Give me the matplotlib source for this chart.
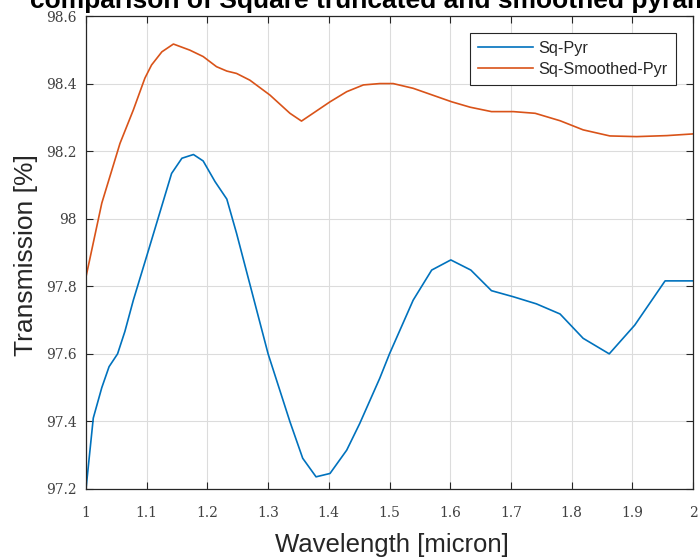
import matplotlib
matplotlib.use('Agg')
import matplotlib.pyplot as plt

# valores (comprimento de onda em micron, transmissao em %)
x_pyr = [1.0, 1.012, 1.026, 1.038, 1.052, 1.064, 1.078, 1.103, 1.141, 1.158,
         1.177, 1.193, 1.2125, 1.232, 1.248, 1.30, 1.336, 1.357, 1.379, 1.402,
         1.4295, 1.451, 1.484, 1.50, 1.539, 1.5695, 1.601, 1.634, 1.668, 1.704,
         1.742, 1.781, 1.819, 1.862, 1.904, 1.954, 2.0]
y_pyr = [97.20, 97.41, 97.50, 97.562, 97.60, 97.666, 97.759, 97.907, 98.134, 98.179,
         98.19, 98.171, 98.11, 98.058, 97.957, 97.60, 97.399, 97.291, 97.236, 97.246,
         97.315, 97.394, 97.528, 97.60, 97.759, 97.848, 97.878, 97.848, 97.787, 97.769,
         97.748, 97.718, 97.646, 97.60, 97.685, 97.816, 97.816]

x_smooth = [1.0, 1.026, 1.056, 1.078, 1.097, 1.108, 1.125, 1.144, 1.171, 1.193,
            1.215, 1.232, 1.248, 1.27, 1.303, 1.336, 1.355, 1.374, 1.402, 1.4295,
            1.457, 1.484, 1.506, 1.539, 1.6025, 1.633, 1.668, 1.704, 1.74, 1.781,
            1.819, 1.863, 1.907, 1.957, 2.0]
y_smooth = [97.828, 98.046, 98.223, 98.322, 98.416, 98.455, 98.494, 98.517, 98.499, 98.48,
            98.45, 98.437, 98.43, 98.41, 98.366, 98.312, 98.289, 98.312, 98.346, 98.376,
            98.396, 98.40, 98.40, 98.386, 98.346, 98.33, 98.317, 98.317, 98.312, 98.29,
            98.263, 98.245, 98.243, 98.246, 98.251]

x_ticks = [1, 1.1, 1.2, 1.3, 1.4, 1.5, 1.6, 1.7, 1.8, 1.9, 2]
x_tick_labels = ['1', '1.1', '1.2', '1.3', '1.4', '1.5', '1.6', '1.7', '1.8', '1.9', '2']
y_ticks = [97.2, 97.4, 97.6, 97.8, 98, 98.2, 98.4, 98.6]
y_tick_labels = ['97.2', '97.4', '97.6', '97.8', '98', '98.2', '98.4', '98.6']

titulo = 'comparison of Square truncated and smoothed pyramids'
cinza = '#262626'

fig = plt.figure(figsize=(7, 5.6), dpi=100)
ax = fig.add_axes([86/700, 1 - 489/560, 607/700, 473/560])

ax.plot(x_pyr, y_pyr, color='#0072BD', lw=1.2, label='Sq-Pyr')
ax.plot(x_smooth, y_smooth, color='#D95319', lw=1.2, label='Sq-Smoothed-Pyr')

ax.set_xlim(1, 2)
ax.set_ylim(97.2, 98.6)
ax.set_xticks(x_ticks)
ax.set_xticklabels(x_tick_labels, family='DejaVu Serif', fontsize=10, color='#404040')
ax.set_yticks(y_ticks)
ax.set_yticklabels(y_tick_labels, family='DejaVu Serif', fontsize=10, color='#404040')
ax.tick_params(direction='in', length=5, width=0.8, color=cinza, top=True, right=True)
ax.tick_params(axis='x', pad=12)
ax.tick_params(axis='y', pad=6.5)
ax.grid(True, color='#dcdcdc', lw=0.8)
ax.set_axisbelow(True)
for s in ax.spines.values():
    s.set_color(cinza)
    s.set_linewidth(0.9)

fig.text(26/700, 1 - 255/560, 'Transmission [%]', rotation=90, ha='center', va='center',
         family='Liberation Sans', fontsize=19, color=cinza)
fig.text(392/700, 1 - 552/560, 'Wavelength [micron]', ha='center', va='baseline',
         family='Liberation Sans', fontsize=18.5, color=cinza)
fig.text(389/700, 1 - 8/560, titulo, ha='center', va='baseline',
         family='Liberation Sans', fontweight='bold', fontsize=19, color='black')

leg = ax.legend(loc='upper right', bbox_to_anchor=(676/700, 1 - 33/560),
                bbox_transform=fig.transFigure, handlelength=3.4,
                fancybox=False, framealpha=1, borderaxespad=0, borderpad=0.5,
                labelspacing=0.35, handletextpad=0.35,
                prop={'family': 'Liberation Sans', 'size': 11.7})
leg.get_frame().set_edgecolor(cinza)
leg.get_frame().set_linewidth(0.8)
for t in leg.get_texts():
    t.set_color(cinza)

fig.savefig('out.png', dpi=100)
